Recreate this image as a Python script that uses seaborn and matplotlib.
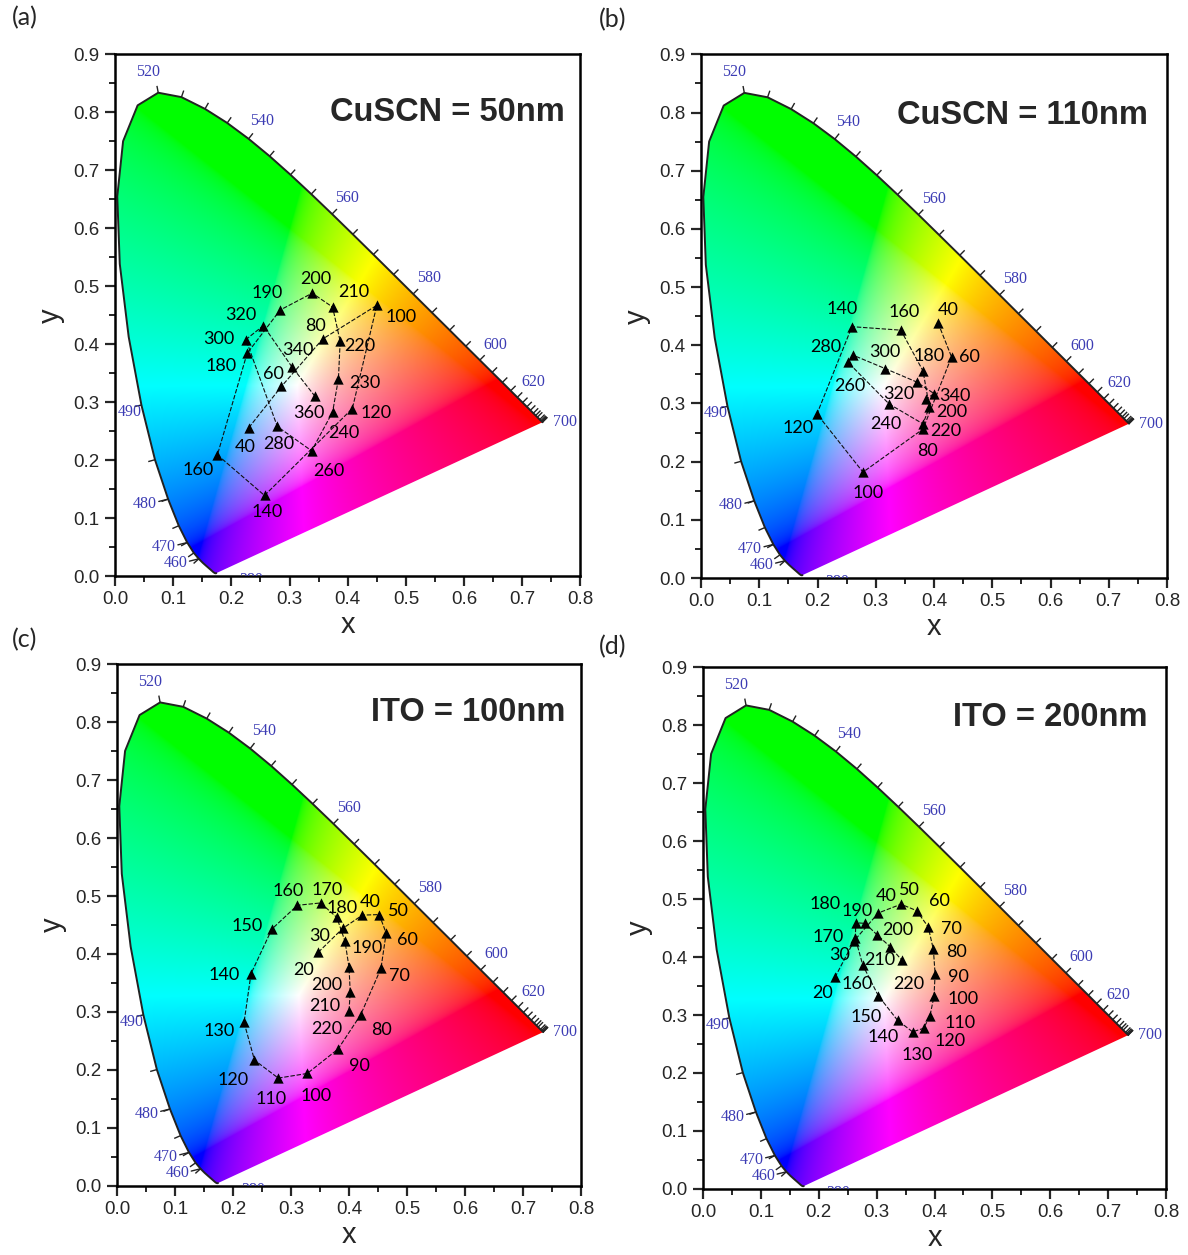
import numpy as np
import matplotlib
matplotlib.use("Agg")
import matplotlib.pyplot as plt
import seaborn as sns
from matplotlib.patches import Polygon
from matplotlib.ticker import MultipleLocator

sns.set_style("ticks")
plt.rcParams["font.family"] = ["Liberation Sans", "DejaVu Sans"]

# ---------------- CIE 1931 spectral locus (standard) ----------------
locus_wl = [380, 390, 400, 410, 420, 430, 440, 450, 455, 460, 465, 470, 475, 480, 485, 490,
            495, 500, 505, 510, 515, 520, 525, 530, 535, 540, 545, 550, 555, 560, 565, 570,
            575, 580, 585, 590, 595, 600, 605, 610, 615, 620, 625, 630, 635, 640, 645, 650,
            660, 670, 680, 690, 700]
locus_x = [0.1741, 0.1738, 0.1733, 0.1726, 0.1714, 0.1689, 0.1644, 0.1566, 0.1510, 0.1440,
           0.1355, 0.1241, 0.1096, 0.0913, 0.0687, 0.0454, 0.0235, 0.0082, 0.0039, 0.0139,
           0.0389, 0.0743, 0.1142, 0.1547, 0.1929, 0.2296, 0.2658, 0.3016, 0.3373, 0.3731,
           0.4087, 0.4441, 0.4788, 0.5125, 0.5448, 0.5752, 0.6029, 0.6270, 0.6482, 0.6658,
           0.6801, 0.6915, 0.7006, 0.7079, 0.7140, 0.7190, 0.7230, 0.7260, 0.7300, 0.7320,
           0.7334, 0.7344, 0.7347]
locus_y = [0.0050, 0.0049, 0.0048, 0.0048, 0.0051, 0.0069, 0.0109, 0.0177, 0.0227, 0.0297,
           0.0399, 0.0578, 0.0868, 0.1327, 0.2007, 0.2950, 0.4127, 0.5384, 0.6548, 0.7502,
           0.8120, 0.8338, 0.8262, 0.8059, 0.7816, 0.7543, 0.7243, 0.6923, 0.6589, 0.6245,
           0.5896, 0.5547, 0.5202, 0.4866, 0.4544, 0.4242, 0.3965, 0.3725, 0.3514, 0.3340,
           0.3197, 0.3083, 0.2993, 0.2920, 0.2859, 0.2809, 0.2770, 0.2740, 0.2700, 0.2680,
           0.2666, 0.2656, 0.2653]
wl_tick = [460, 465, 470, 475, 480, 485, 490, 520, 525, 530, 535, 540, 545, 550, 555, 560,
           565, 570, 575, 580, 585, 590, 595, 600, 605, 610, 615, 620, 625, 630, 635, 640,
           645, 650, 660, 670, 680, 690, 700]
wl_label = [380, 460, 470, 480, 490, 520, 540, 560, 580, 600, 620, 700]

# ---------------- data: (a) CuSCN = 50 nm ----------------
a_lab = ["40", "60", "80", "100", "120", "140", "160", "180", "190", "200", "210", "220",
         "230", "240", "260", "280", "300", "320", "340", "360"]
a_x = [0.230, 0.286, 0.357, 0.450, 0.408, 0.257, 0.176, 0.227, 0.284, 0.339, 0.374, 0.387,
       0.384, 0.374, 0.338, 0.279, 0.225, 0.255, 0.304, 0.343]
a_y = [0.256, 0.327, 0.409, 0.467, 0.289, 0.139, 0.209, 0.384, 0.459, 0.488, 0.464, 0.405,
       0.340, 0.283, 0.216, 0.258, 0.408, 0.432, 0.361, 0.311]

# ---------------- data: (b) CuSCN = 110 nm ----------------
b_lab = ["40", "60", "80", "100", "120", "140", "160", "180", "200", "220", "240", "260",
         "280", "300", "320", "340", ""]
b_x = [0.407, 0.430, 0.381, 0.278, 0.199, 0.259, 0.343, 0.381, 0.392, 0.381, 0.323, 0.252,
       0.261, 0.316, 0.370, 0.400, 0.387]
b_y = [0.438, 0.380, 0.256, 0.182, 0.282, 0.432, 0.426, 0.356, 0.294, 0.265, 0.299, 0.371,
       0.383, 0.360, 0.337, 0.317, 0.308]

# ---------------- data: (c) ITO = 100 nm ----------------
c_lab = ["20", "30", "40", "50", "60", "70", "80", "90", "100", "110", "120", "130", "140",
         "150", "160", "170", "180", "190", "200", "210", "220"]
c_x = [0.347, 0.389, 0.423, 0.452, 0.464, 0.455, 0.420, 0.381, 0.328, 0.278, 0.237, 0.219,
       0.231, 0.267, 0.311, 0.351, 0.379, 0.393, 0.400, 0.402, 0.400]
c_y = [0.403, 0.444, 0.467, 0.468, 0.436, 0.375, 0.295, 0.236, 0.194, 0.186, 0.217, 0.282,
       0.366, 0.443, 0.484, 0.488, 0.463, 0.422, 0.377, 0.335, 0.301]

# ---------------- data: (d) ITO = 200 nm ----------------
d_lab = ["20", "30", "40", "50", "60", "70", "80", "90", "100", "110", "120", "130", "140",
         "150", "160", "170", "180", "190", "200", "210", "220"]
d_x = [0.228, 0.261, 0.303, 0.342, 0.369, 0.389, 0.398, 0.401, 0.399, 0.392, 0.381, 0.362,
       0.336, 0.303, 0.276, 0.263, 0.264, 0.280, 0.301, 0.323, 0.343]
d_y = [0.365, 0.428, 0.476, 0.491, 0.480, 0.452, 0.413, 0.370, 0.332, 0.298, 0.277, 0.271,
       0.291, 0.333, 0.386, 0.433, 0.459, 0.458, 0.438, 0.418, 0.395]

titles = ["CuSCN = 50nm", "CuSCN = 110nm", "ITO = 100nm", "ITO = 200nm"]
tags = ["(a)", "(b)", "(c)", "(d)"]

# label offsets in pixels (dx, dy up) -- style only
a_off = [(-4, -19), (-8, 12), (-7, 13), (24, -12), (24, -4), (3, -17), (-19, -15), (-26, -13),
         (-13, 17), (4, 14), (21, 15), (20, -5), (26, -4), (11, -21), (17, -20), (1, -18),
         (-27, 1), (-23, 11), (6, 17), (-6, -17)]
b_off = [(10, 13), (18, 0), (5, -22), (5, -21), (-19, -14), (-10, 18), (3, 18), (6, 15),
         (22, -5), (23, -7), (-3, -20), (2, -24), (-27, 8), (0, 17), (-18, -12), (21, -2), (0, 0)]
c_off = [(-15, -18), (-23, -8), (8, 13), (19, 4), (21, -7), (19, -8), (21, -15), (21, -17),
         (9, -23), (-7, -21), (-21, -20), (-25, -9), (-27, -1), (-25, 3), (-9, 14), (7, 13),
         (5, 9), (22, -7), (-22, -18), (-25, -14), (-22, -18)]
d_off = [(-12, -16), (-14, -14), (8, 17), (8, 14), (23, 10), (23, -2), (23, -3), (23, -3),
         (29, -3), (30, -7), (27, -13), (5, -23), (-14, -17), (-12, -21), (-6, -19), (-27, 1),
         (-31, 19), (-8, 12), (21, 5), (-10, -13), (7, -24)]

rects = [(0.0968, 0.5410, 0.3918, 0.4157), (0.5901, 0.5394, 0.3923, 0.4173),
         (0.0985, 0.0550, 0.3906, 0.4159), (0.5918, 0.0526, 0.3897, 0.4159)]
title_pos = [(0.967, 0.889), (0.959, 0.884), (0.966, 0.908), (0.959, 0.904)]
tag_pos = [(0.021, 0.986), (0.516, 0.984), (0.021, 0.490), (0.516, 0.485)]

# ---------------- chromaticity colour image ----------------
nx, ny = 640, 720
gx = np.linspace(0.0, 0.8, nx)
gy = np.linspace(0.0005, 0.9, ny)
GX, GY = np.meshgrid(gx, gy)
Xc = GX / GY
Zc = (1 - GX - GY) / GY
R = 3.2406 * Xc - 1.5372 - 0.4986 * Zc
G = -0.9689 * Xc + 1.8758 + 0.0415 * Zc
B = 0.0557 * Xc - 0.2040 + 1.0570 * Zc
rgb = np.clip(np.stack([R, G, B], -1), 0, None)
rgb = rgb / (rgb.max(-1, keepdims=True) + 1e-9)
rgb = np.where(rgb <= 0.0031308, 12.92 * rgb, 1.055 * rgb ** (1 / 2.4) - 0.055)
rgb = np.clip(rgb, 0, 1)

lx = np.array(locus_x)
ly = np.array(locus_y)


def normal_at(wl):
    i = locus_wl.index(wl)
    i0, i1 = max(i - 1, 0), min(i + 1, len(locus_wl) - 1)
    tx, ty = lx[i1] - lx[i0], ly[i1] - ly[i0]
    n = np.array([-ty, tx])
    return n / np.hypot(*n)


fig = plt.figure(figsize=(11.88, 12.55), dpi=100)
datasets = [(a_lab, a_x, a_y, a_off), (b_lab, b_x, b_y, b_off),
            (c_lab, c_x, c_y, c_off), (d_lab, d_x, d_y, d_off)]

for k, (labs, xs, ys, offs) in enumerate(datasets):
    ax = fig.add_axes(rects[k])
    im = ax.imshow(rgb, extent=(0, 0.8, 0.0005, 0.9), origin="lower", aspect="auto",
                   interpolation="bilinear", zorder=0)
    poly = Polygon(np.column_stack([lx, ly]), closed=True, transform=ax.transData,
                   facecolor="none", edgecolor="none")
    ax.add_patch(poly)
    im.set_clip_path(poly)
    ax.plot(lx, ly, color="#222222", lw=1.4, zorder=2)

    # wavelength ticks and labels
    for wl in wl_tick:
        i = locus_wl.index(wl)
        n = normal_at(wl)
        p = np.array([lx[i], ly[i]])
        q = p + n * 0.012
        ax.plot([p[0], q[0]], [p[1], q[1]], color="#222222", lw=1.0, zorder=2,
                solid_capstyle="butt")
    for wl in wl_label:
        i = locus_wl.index(wl)
        p = np.array([lx[i], ly[i]])
        if wl in (460, 470, 480):
            t = p + np.array([-0.040, -0.008])
            ax.plot([p[0], p[0] - 0.016], [p[1], p[1] - 0.004], color="#222222", lw=1.0)
        elif wl == 490:
            t = p + np.array([-0.020, -0.012])
        elif wl == 520:
            t = p + np.array([-0.018, 0.036])
        elif wl == 700:
            t = p + np.array([0.038, 0.0])
        elif wl == 380:
            t = p + np.array([0.06, -0.012])
        else:
            t = p + normal_at(wl) * 0.038
        ax.text(t[0], t[1], str(wl), color="#3c3cb4", fontsize=11.5,
                family=["Liberation Serif", "DejaVu Serif"], ha="center", va="center",
                clip_on=(wl == 380), zorder=3)

    # data
    sns.lineplot(x=xs, y=ys, sort=False, estimator=None, color="#111111", lw=0.8,
                 linestyle=(0, (4, 1.6)), ax=ax, zorder=4, legend=False)
    sns.scatterplot(x=xs, y=ys, marker="^", color="black", s=55, linewidth=0,
                    ax=ax, zorder=5, legend=False)
    for lab, x0, y0, (dx, dy) in zip(labs, xs, ys, offs):
        if lab:
            ax.annotate(lab, (x0, y0), xytext=(dx, dy), textcoords="offset pixels",
                        ha="center", va="center", fontsize=13,
                        family=["Lato", "DejaVu Sans"], color="black", zorder=6)

    ax.text(title_pos[k][0], title_pos[k][1], titles[k], transform=ax.transAxes,
            ha="right", va="center", fontsize=23.5, fontweight="bold")
    fig.text(tag_pos[k][0], tag_pos[k][1], tags[k], ha="center", va="center",
             fontsize=18, family=["Lato", "DejaVu Sans"])

    ax.set_xlim(0, 0.8)
    ax.set_ylim(0, 0.9)
    ax.xaxis.set_major_locator(MultipleLocator(0.1))
    ax.yaxis.set_major_locator(MultipleLocator(0.1))
    ax.xaxis.set_minor_locator(MultipleLocator(0.05))
    ax.yaxis.set_minor_locator(MultipleLocator(0.05))
    ax.xaxis.set_major_formatter(matplotlib.ticker.FormatStrFormatter("%.1f"))
    ax.yaxis.set_major_formatter(matplotlib.ticker.FormatStrFormatter("%.1f"))
    ax.tick_params(which="major", direction="out", length=7, width=1.6, labelsize=13.5,
                   top=False, right=False, pad=4)
    ax.tick_params(which="minor", direction="out", length=4, width=1.4, top=False, right=False)
    for s in ax.spines.values():
        s.set_linewidth(1.8)
        s.set_color("black")
    ax.set_xlabel("x", fontsize=21, labelpad=2)
    ax.set_ylabel("y", fontsize=21, labelpad=6)

fig.savefig("out.png", dpi=100, facecolor="white")
